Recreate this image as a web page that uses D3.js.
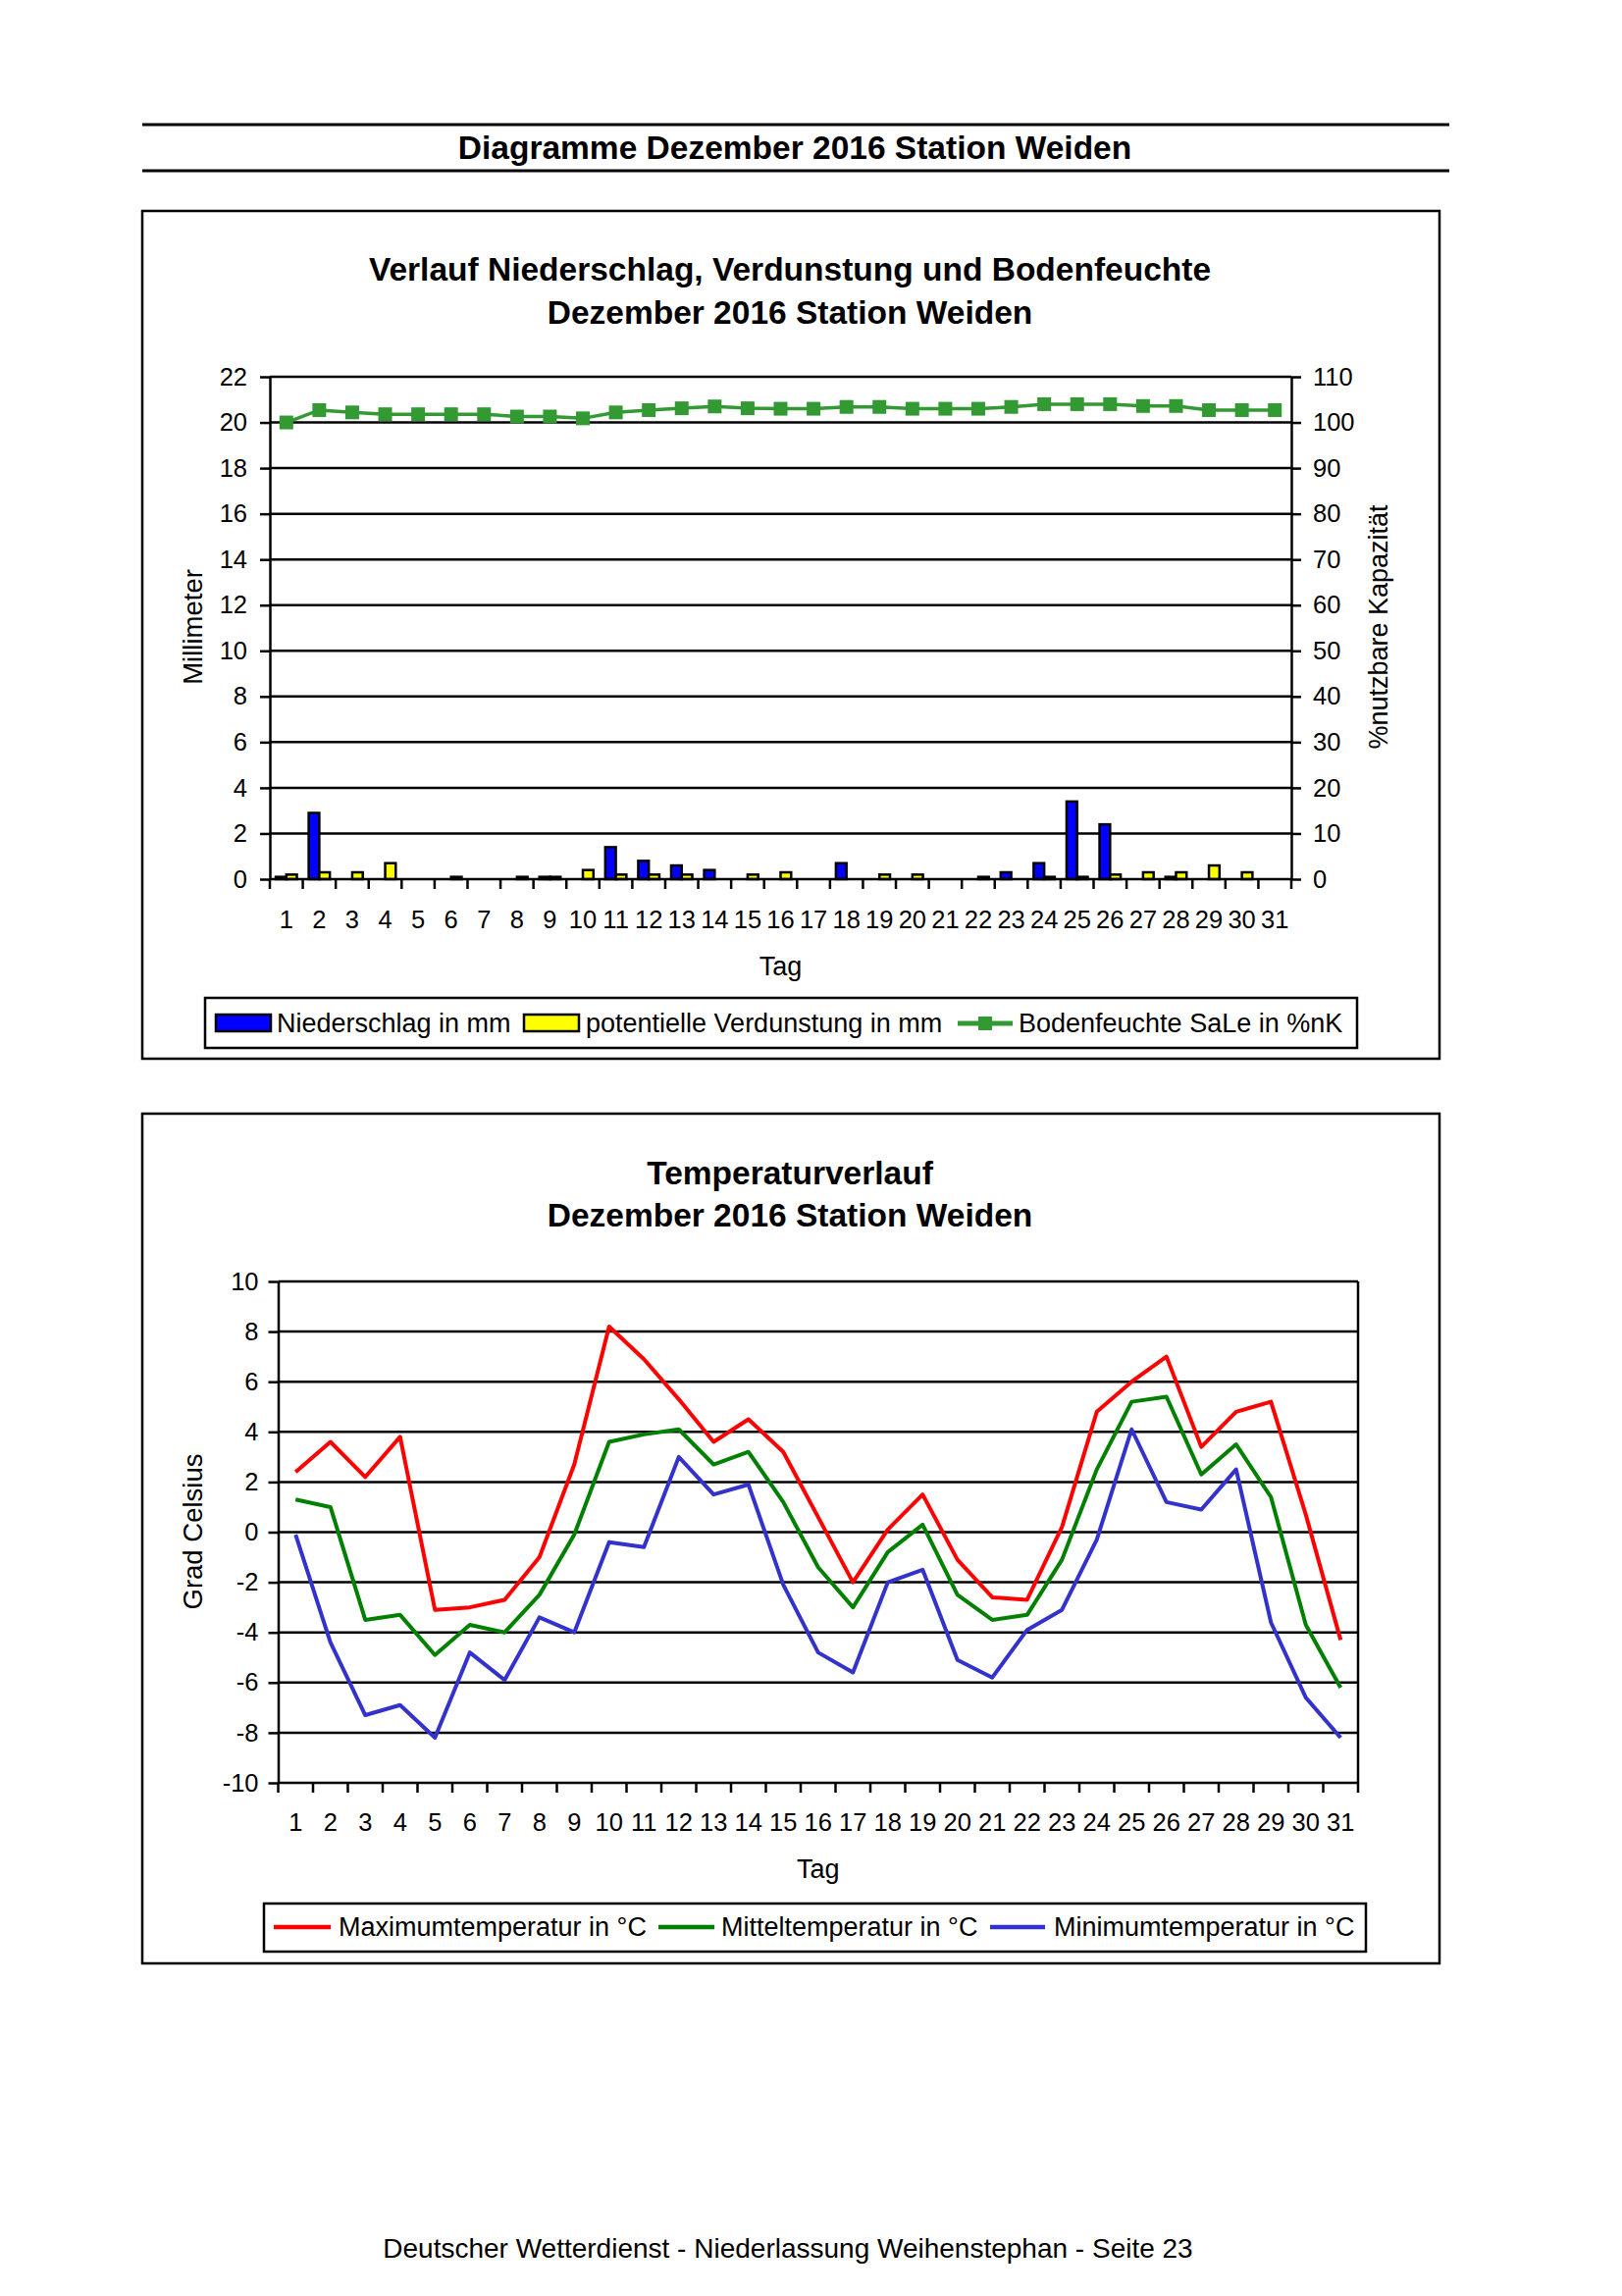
<!DOCTYPE html>
<html><head><meta charset="utf-8">
<script src="https://cdn.jsdelivr.net/npm/d3@7"></script>
<style>
body{margin:0;background:#fff}
svg{display:block}
text{font-family:"Liberation Sans",Arial,Helvetica,sans-serif;fill:#000}
</style></head>
<body>
<script>
// ---------- DATA ----------
const days = ["1","2","3","4","5","6","7","8","9","10","11","12","13","14","15","16","17","18","19","20","21","22","23","24","25","26","27","28","29","30","31"];
const niederschlag = [0.1,2.9,0,0,0,0,0,0,0.1,0,1.4,0.8,0.6,0.4,0,0,0,0.7,0,0,0,0,0.3,0.7,3.4,2.4,0,0.1,0,0,0];
const verdunstung  = [0.2,0.3,0.3,0.7,0,0.1,0,0.1,0.1,0.4,0.2,0.2,0.2,0,0.2,0.3,0,0,0.2,0.2,0,0.1,0,0.1,0.1,0.2,0.3,0.3,0.6,0.3,0];
const bodenfeuchte = [100.0,102.7,102.2,101.8,101.8,101.8,101.8,101.3,101.3,100.9,102.2,102.7,103.1,103.5,103.1,103.0,103.0,103.4,103.4,103.0,103.0,103.0,103.4,104.0,104.0,104.0,103.6,103.6,102.7,102.7,102.7];
const tMax  = [2.4,3.6,2.2,3.8,-3.1,-3.0,-2.7,-1.0,2.7,8.2,6.9,5.3,3.6,4.5,3.2,0.6,-2.0,0.1,1.5,-1.1,-2.6,-2.7,0.2,4.8,6.0,7.0,3.4,4.8,5.2,0.7,-4.3];
const tMean = [1.3,1.0,-3.5,-3.3,-4.9,-3.7,-4.0,-2.5,-0.1,3.6,3.9,4.1,2.7,3.2,1.2,-1.4,-3.0,-0.8,0.3,-2.5,-3.5,-3.3,-1.1,2.5,5.2,5.4,2.3,3.5,1.4,-3.7,-6.2];
const tMin  = [-0.1,-4.4,-7.3,-6.9,-8.2,-4.8,-5.9,-3.4,-4.0,-0.4,-0.6,3.0,1.5,1.9,-2.1,-4.8,-5.6,-2.0,-1.5,-5.1,-5.8,-3.9,-3.1,-0.3,4.1,1.2,0.9,2.5,-3.6,-6.6,-8.2];
const mmTicks  = [0,2,4,6,8,10,12,14,16,18,20,22];
const pctTicks = [0,10,20,30,40,50,60,70,80,90,100,110];
const tempTicks = [-10,-8,-6,-4,-2,0,2,4,6,8,10];
const pageTitle = "Diagramme Dezember 2016 Station Weiden";
const chart1Title = ["Verlauf Niederschlag, Verdunstung und Bodenfeuchte","Dezember 2016 Station Weiden"];
const chart2Title = ["Temperaturverlauf","Dezember 2016 Station Weiden"];
const legend1 = ["Niederschlag in mm","potentielle Verdunstung in mm","Bodenfeuchte SaLe in %nK"];
const legend2 = ["Maximumtemperatur in °C","Mitteltemperatur in °C","Minimumtemperatur in °C"];
const footer = "Deutscher Wetterdienst - Niederlassung Weihenstephan - Seite 23";

// ---------- SETUP ----------
const W = 1653, H = 2340;
const svg = d3.select("body").append("svg").attr("width", W).attr("height", H);
svg.append("rect").attr("width", W).attr("height", H).attr("fill", "#fff");

// page header
svg.append("line").attr("x1",145).attr("x2",1477).attr("y1",127).attr("y2",127).attr("stroke","#000").attr("stroke-width",3);
svg.append("line").attr("x1",145).attr("x2",1477).attr("y1",174).attr("y2",174).attr("stroke","#000").attr("stroke-width",3);
svg.append("text").attr("x",810).attr("y",162).attr("text-anchor","middle")
  .attr("font-size",33.5).attr("font-weight","bold").text(pageTitle);

// footer
svg.append("text").attr("x",803).attr("y",2301).attr("text-anchor","middle")
  .attr("font-size",28).text(footer);

const GW = 2.5; // grid / border width

// ---------- CHART 1 ----------
{
  const g = svg.append("g");
  g.append("rect").attr("x",145).attr("y",215).attr("width",1322).attr("height",864)
    .attr("fill","none").attr("stroke","#000").attr("stroke-width",GW);
  chart1Title.forEach((t,i)=> g.append("text").attr("x",805).attr("y",286+i*44)
    .attr("text-anchor","middle").attr("font-size",33.5).attr("font-weight","bold").text(t));

  const L = 275, R = 1316, T = 384, B = 896;
  const x = d3.scaleBand().domain(days).range([L,R]).padding(0);
  const xi = d3.scaleBand().domain(["n","v"]).range([0,x.bandwidth()]).paddingInner(0).paddingOuter(0.56);
  const yL = d3.scaleLinear().domain([0,22]).range([B,T]);
  const yR = d3.scaleLinear().domain([0,110]).range([B,T]);

  // grid lines
  g.selectAll(".grid").data(mmTicks.filter(v=>v>0)).join("line")
    .attr("x1",L).attr("x2",R).attr("y1",d=>yL(d)).attr("y2",d=>yL(d))
    .attr("stroke","#000").attr("stroke-width",GW);

  // bars
  const barData = [];
  days.forEach((d,i)=>{
    if (niederschlag[i]>0) barData.push({d, k:"n", v:niederschlag[i]});
    if (verdunstung[i]>0) barData.push({d, k:"v", v:verdunstung[i]});
  });
  g.selectAll(".bar").data(barData).join("rect")
    .attr("x",b=>x(b.d)+xi(b.k)).attr("width",xi.bandwidth())
    .attr("y",b=>yL(b.v)).attr("height",b=>B-yL(b.v))
    .attr("fill",b=>b.k==="n"?"#0000ff":"#ffff00")
    .attr("stroke","#000").attr("stroke-width",2.5);

  // left axis
  const ax = g.append("g").attr("transform",`translate(${L},0)`)
    .call(d3.axisLeft(yL).tickValues(mmTicks).tickSize(10).tickSizeOuter(0).tickPadding(13));
  ax.select(".domain").attr("stroke-width",GW);
  ax.selectAll(".tick line").attr("stroke-width",GW);
  ax.selectAll("text").attr("font-size",25.5).attr("font-family",null);

  // right axis
  const axr = g.append("g").attr("transform",`translate(${R},0)`)
    .call(d3.axisRight(yR).tickValues(pctTicks).tickSize(10).tickSizeOuter(0).tickPadding(12));
  axr.select(".domain").attr("stroke-width",GW);
  axr.selectAll(".tick line").attr("stroke-width",GW);
  axr.selectAll("text").attr("font-size",25.5).attr("font-family",null);

  // x axis line & boundary ticks
  g.append("line").attr("x1",L).attr("x2",R).attr("y1",B).attr("y2",B).attr("stroke","#000").attr("stroke-width",GW);
  const bounds = days.map(d=>x(d)).concat([x(days[days.length-1])+x.bandwidth()]);
  g.selectAll(".xt").data(bounds).join("line")
    .attr("x1",d=>d).attr("x2",d=>d).attr("y1",B).attr("y2",B+10)
    .attr("stroke","#000").attr("stroke-width",GW);
  const axb = g.append("g").attr("transform",`translate(0,${B})`)
    .call(d3.axisBottom(x).tickSize(0).tickPadding(32));
  axb.select(".domain").remove();
  axb.selectAll("text").attr("font-size",25.5).attr("font-family",null);

  // soil moisture line
  const line = d3.line().x((v,i)=>x(days[i])+x.bandwidth()/2).y(v=>yR(v));
  g.append("path").datum(bodenfeuchte).attr("d",line)
    .attr("fill","none").attr("stroke","#339933").attr("stroke-width",3.5);
  g.selectAll(".mk").data(bodenfeuchte).join("rect")
    .attr("x",(v,i)=>x(days[i])+x.bandwidth()/2-7).attr("y",v=>yR(v)-7)
    .attr("width",14).attr("height",14).attr("fill","#339933");

  // axis titles
  g.append("text").attr("transform","translate(206,639) rotate(-90)").attr("text-anchor","middle")
    .attr("font-size",27.5).text("Millimeter");
  g.append("text").attr("transform","translate(1414,639) rotate(-90)").attr("text-anchor","middle")
    .attr("font-size",27).text("%nutzbare Kapazität");
  g.append("text").attr("x",(L+R)/2).attr("y",994).attr("text-anchor","middle")
    .attr("font-size",27).text("Tag");

  // legend
  g.append("rect").attr("x",209).attr("y",1017).attr("width",1174).attr("height",51)
    .attr("fill","#fff").attr("stroke","#000").attr("stroke-width",GW);
  g.append("rect").attr("x",220).attr("y",1034).attr("width",56).attr("height",17)
    .attr("fill","#0000ff").attr("stroke","#000").attr("stroke-width",2.5);
  g.append("text").attr("x",282).attr("y",1052).attr("font-size",27).text(legend1[0]);
  g.append("rect").attr("x",534).attr("y",1034).attr("width",56).attr("height",17)
    .attr("fill","#ffff00").attr("stroke","#000").attr("stroke-width",2.5);
  g.append("text").attr("x",597).attr("y",1052).attr("font-size",27).text(legend1[1]);
  g.append("line").attr("x1",976).attr("x2",1032).attr("y1",1043).attr("y2",1043)
    .attr("stroke","#339933").attr("stroke-width",5);
  g.append("rect").attr("x",997).attr("y",1036).attr("width",14).attr("height",14).attr("fill","#339933");
  g.append("text").attr("x",1038).attr("y",1052).attr("font-size",27).text(legend1[2]);
}

// ---------- CHART 2 ----------
{
  const g = svg.append("g");
  g.append("rect").attr("x",145).attr("y",1135).attr("width",1322).attr("height",866)
    .attr("fill","none").attr("stroke","#000").attr("stroke-width",GW);
  chart2Title.forEach((t,i)=> g.append("text").attr("x",805).attr("y",1207+i*43)
    .attr("text-anchor","middle").attr("font-size",33.5).attr("font-weight","bold").text(t));

  const L = 283.5, R = 1384, T = 1306, B = 1817;
  const x = d3.scaleBand().domain(days).range([L,R]).padding(0);
  const y = d3.scaleLinear().domain([-10,10]).range([B,T]);

  g.selectAll(".grid").data(tempTicks.filter(v=>v>-10)).join("line")
    .attr("x1",L).attr("x2",R).attr("y1",d=>y(d)).attr("y2",d=>y(d))
    .attr("stroke","#000").attr("stroke-width",GW);
  g.append("line").attr("x1",R).attr("x2",R).attr("y1",T).attr("y2",B)
    .attr("stroke","#000").attr("stroke-width",GW);

  const ax = g.append("g").attr("transform",`translate(${L},0)`)
    .call(d3.axisLeft(y).tickValues(tempTicks).tickSize(10).tickSizeOuter(0).tickPadding(10)
      .tickFormat(d=>String(d)));
  ax.select(".domain").attr("stroke-width",GW);
  ax.selectAll(".tick line").attr("stroke-width",GW);
  ax.selectAll("text").attr("font-size",25.5).attr("font-family",null);

  g.append("line").attr("x1",L).attr("x2",R).attr("y1",B).attr("y2",B).attr("stroke","#000").attr("stroke-width",GW);
  const bounds = days.map(d=>x(d)).concat([x(days[days.length-1])+x.bandwidth()]);
  g.selectAll(".xt").data(bounds).join("line")
    .attr("x1",d=>d).attr("x2",d=>d).attr("y1",B).attr("y2",B+10)
    .attr("stroke","#000").attr("stroke-width",GW);
  const axb = g.append("g").attr("transform",`translate(0,${B})`)
    .call(d3.axisBottom(x).tickSize(0).tickPadding(31));
  axb.select(".domain").remove();
  axb.selectAll("text").attr("font-size",25.5).attr("font-family",null);

  const line = d3.line().x((v,i)=>x(days[i])+x.bandwidth()/2).y(v=>y(v));
  const series = [[tMax,"#ff0000"],[tMean,"#008000"],[tMin,"#3333cc"]];
  series.forEach(([s,c])=> g.append("path").datum(s).attr("d",line)
    .attr("fill","none").attr("stroke",c).attr("stroke-width",4).attr("stroke-linejoin","round"));

  g.append("text").attr("transform","translate(206,1561) rotate(-90)").attr("text-anchor","middle")
    .attr("font-size",27.5).text("Grad Celsius");
  g.append("text").attr("x",(L+R)/2).attr("y",1914).attr("text-anchor","middle")
    .attr("font-size",27).text("Tag");

  g.append("rect").attr("x",269).attr("y",1940).attr("width",1123).attr("height",49)
    .attr("fill","#fff").attr("stroke","#000").attr("stroke-width",GW);
  const lx = [[279,337,345],[671,728,735],[1009,1065,1074]];
  series.forEach(([s,c],i)=>{
    g.append("line").attr("x1",lx[i][0]).attr("x2",lx[i][1]).attr("y1",1964).attr("y2",1964)
      .attr("stroke",c).attr("stroke-width",4.5);
    g.append("text").attr("x",lx[i][2]).attr("y",1973).attr("font-size",27).text(legend2[i]);
  });
}
</script>
</body></html>
